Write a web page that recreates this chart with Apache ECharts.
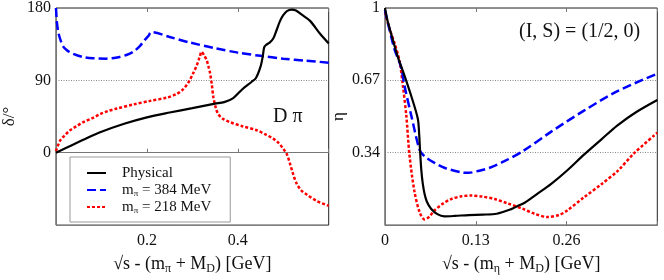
<!DOCTYPE html>
<html>
<head>
<meta charset="utf-8">
<script src="https://cdn.jsdelivr.net/npm/echarts@6/dist/echarts.min.js"></script>
<style>html,body{margin:0;padding:0;background:#fff}#c{width:664px;height:280px}</style>
</head>
<body>
<div id="c"></div>
<script>
// ---- Left panel: phase shift delta (deg) vs sqrt(s) - (m_pi + M_D) [GeV]
const physX = [0,0.03,0.06,0.1,0.15,0.2,0.25,0.3,0.35,0.37,0.39,0.41,0.43,0.44,0.45,0.455,0.458,0.462,0.47,0.478,0.485,0.493,0.5,0.508,0.518,0.528,0.54,0.559,0.581,0.6];
const physDelta = [0,8,16,26,36,44,50,55.5,61,63,68,79,88,93,107,120,131,134,137,142,152,164,171,176,178,177,172,164,148,136];
const m384X = [0,0.002,0.005,0.01,0.016,0.025,0.038,0.06,0.082,0.11,0.134,0.155,0.17,0.185,0.195,0.203,0.21,0.25,0.295,0.35,0.4,0.45,0.5,0.55,0.6];
const m384Delta = [180,162,150,140,132,127,123,119,117.5,117,118.5,121.5,125.5,133,140,145,150,144,137,130,124.5,120.5,117,114.5,112];
const m218X = [0,0.009,0.02,0.031,0.045,0.06,0.08,0.097,0.115,0.134,0.17,0.207,0.244,0.265,0.28,0.292,0.302,0.31,0.316,0.3205,0.326,0.3315,0.336,0.339,0.343,0.346,0.351,0.357,0.368,0.383,0.41,0.4416,0.46,0.478,0.49,0.5,0.508,0.515,0.522,0.53,0.54,0.5516,0.5736,0.6];
const m218Delta = [2,15,22,28,33,38,43,48,52,55,60,64.5,68.5,73,79,88,99,109,119,125.5,121,115,106,99,84,70,57,48,42,38,33,28,23,17.5,12,5,-2,-14,-27,-39,-47,-52,-60,-66];

// ---- Right panel: inelasticity eta vs sqrt(s) - (m_eta + M_D) [GeV]
const physEtaX = [0,0.003,0.009,0.018,0.028,0.0376,0.047,0.049,0.05,0.052,0.054,0.0567,0.06,0.066,0.075,0.085,0.1,0.12,0.14,0.16,0.18,0.19,0.2,0.22,0.2376,0.26,0.285,0.31,0.333,0.36,0.39];
const physEta = [1.0,0.95,0.88,0.78,0.69,0.598,0.494,0.42,0.36,0.26,0.2,0.15,0.115,0.083,0.058,0.048,0.05,0.054,0.056,0.06,0.08,0.095,0.11,0.155,0.195,0.255,0.33,0.4,0.464,0.525,0.58];
const m384EtaX = [0,0.005,0.0138,0.023,0.028,0.0376,0.0495,0.0567,0.071,0.085,0.109,0.12,0.133,0.15,0.171,0.197,0.2376,0.285,0.333,0.39];
const m384Eta = [0.99,0.92,0.81,0.73,0.643,0.509,0.352,0.322,0.292,0.27,0.249,0.247,0.255,0.27,0.3,0.345,0.434,0.531,0.62,0.70];
const m218EtaX = [0,0.007,0.0138,0.021,0.0257,0.0305,0.035,0.042,0.0495,0.0567,0.063,0.071,0.082,0.0948,0.11,0.1233,0.14,0.157,0.175,0.197,0.214,0.233,0.25,0.261,0.285,0.31,0.333,0.357,0.39];
const m218Eta = [0.98,0.9,0.838,0.755,0.643,0.509,0.33,0.165,0.068,0.034,0.045,0.075,0.104,0.127,0.14,0.143,0.138,0.127,0.108,0.083,0.06,0.045,0.055,0.075,0.135,0.195,0.255,0.337,0.43];

// ---- Tick labels
const leftXTicks = [0.2, 0.4];
const leftYTicks = [0, 90, 180];
const rightXTicks = [0, 0.13, 0.26];
const rightYTicks = [0.34, 0.67, 1];

const FONT = "'Liberation Serif','DejaVu Serif',serif";
const zip = (xs, ys) => xs.map((x, i) => [x, ys[i]]);
const has = (arr, v) => arr.some(t => Math.abs(t - v) < 1e-6);

const chart = echarts.init(document.getElementById('c'), null, {renderer: 'canvas'});

const subRich = {
  sub: {fontSize: 12, fontFamily: FONT, color: '#111', verticalAlign: 'bottom', lineHeight: 21}
};
const legendRich = {
  sub: {fontSize: 9, fontFamily: FONT, color: '#111', verticalAlign: 'bottom', lineHeight: 16}
};

const labelStyle = {fontSize: 16, fontFamily: FONT, color: '#111'};
const frameLine = {show: true, lineStyle: {color: '#777', width: 1}};
const tickStyle = {show: true, inside: true, length: 4, lineStyle: {color: '#777', width: 1}};
const gridLine = {show: true, lineStyle: {type: [1, 1.5], color: '#888', width: 1}};

const NAMES = ['Physical', 'm384', 'm218'];
const styles = {
  Physical: {color: '#000', width: 2.2, type: 'solid'},
  m384: {color: '#0000ff', width: 2.5, type: [9, 4]},
  m218: {color: '#ff0000', width: 2.5, type: [3, 2]}
};
function line(name, data, idx) {
  return {
    name, type: 'line', data, xAxisIndex: idx, yAxisIndex: idx,
    showSymbol: false, symbol: 'none', smooth: 0.3,
    lineStyle: styles[name], itemStyle: {color: styles[name].color},
    animation: false, z: name === 'Physical' ? 3 : 2
  };
}

const option = {
  backgroundColor: '#fff',
  animation: false,
  grid: [
    {left: 56, top: 7, width: 272.7, height: 221.3, show: true, borderColor: '#222', borderWidth: 1, containLabel: false},
    {left: 385, top: 7, width: 272.3, height: 221.3, show: true, borderColor: '#222', borderWidth: 1, containLabel: false}
  ],
  legend: {
    data: NAMES,
    orient: 'vertical',
    left: 70, top: 157,
    padding: [8, 19, 7, 16],
    itemGap: 1,
    itemWidth: 19, itemHeight: 14,
    borderColor: '#999', borderWidth: 1, backgroundColor: '#fff',
    itemStyle: {color: 'rgba(0,0,0,0)', borderWidth: 0, opacity: 0},
    textStyle: {fontSize: 15, fontFamily: FONT, color: '#111', lineHeight: 16, padding: [0, 0, 0, 11], rich: legendRich},
    formatter: n => n === 'Physical' ? 'Physical' : (n === 'm384' ? 'm{sub|π} = 384 MeV' : 'm{sub|π} = 218 MeV')
  },
  xAxis: [
    {
      gridIndex: 0, type: 'value', min: 0, max: 0.6, interval: 0.2,
      axisLine: frameLine, axisTick: tickStyle, splitLine: {show: false},
      axisLabel: Object.assign({margin: 8, formatter: v => has(leftXTicks, v) ? v.toFixed(1) : ''}, labelStyle),
      name: '√s - (m{sub|π} + M{sub|D}) [GeV]', nameLocation: 'middle', nameGap: 28,
      nameTextStyle: {fontSize: 18, fontFamily: FONT, color: '#111', lineHeight: 21, rich: subRich}
    },
    {
      gridIndex: 1, type: 'value', min: 0, max: 0.39, interval: 0.13,
      axisLine: frameLine, axisTick: tickStyle, splitLine: {show: false},
      axisLabel: Object.assign({margin: 8, formatter: v => has(rightXTicks, v) ? (v === 0 ? '0' : v.toFixed(2)) : ''}, labelStyle),
      name: '√s - (m{sub|η} + M{sub|D}) [GeV]', nameLocation: 'middle', nameGap: 28,
      nameTextStyle: {fontSize: 18, fontFamily: FONT, color: '#111', lineHeight: 21, rich: subRich}
    },
    {
      gridIndex: 0, type: 'value', position: 'top', min: 0, max: 0.6, interval: 0.2,
      axisLine: {show: false}, axisTick: tickStyle, axisLabel: {show: false}, splitLine: {show: false}
    },
    {
      gridIndex: 1, type: 'value', position: 'top', min: 0, max: 0.39, interval: 0.13,
      axisLine: {show: false}, axisTick: tickStyle, axisLabel: {show: false}, splitLine: {show: false}
    }
  ],
  yAxis: [
    {
      gridIndex: 0, type: 'value', min: -90, max: 180, interval: 90,
      axisLine: frameLine, axisTick: {show: false}, splitLine: gridLine,
      axisLabel: Object.assign({margin: 5, formatter: v => has(leftYTicks, v) ? String(v) : ''}, labelStyle),
      name: 'δ/°', nameLocation: 'middle', nameGap: 38,
      nameTextStyle: {fontSize: 17, fontFamily: FONT, color: '#111'}
    },
    {
      gridIndex: 1, type: 'value', min: 0.008, max: 1,
      axisLine: frameLine, axisTick: {show: false, customValues: rightYTicks}, splitLine: gridLine,
      axisLabel: Object.assign({margin: 5, customValues: rightYTicks, formatter: v => v === 1 ? '1' : v.toFixed(2)}, labelStyle),
      name: 'η', nameLocation: 'middle', nameGap: 38,
      nameTextStyle: {fontSize: 17, fontFamily: FONT, color: '#111'}
    }
  ],
  graphic: [
    {type: 'text', left: 273, top: 107, style: {text: 'D π', fontSize: 20, fontFamily: FONT, fill: '#111'}},
    {type: 'text', left: 519, top: 22, style: {text: '(I, S) = (1/2, 0)', fontSize: 20, fontFamily: FONT, fill: '#111'}}
  ],
  series: [
    line('m218', zip(m218X, m218Delta), 0),
    line('m384', zip(m384X, m384Delta), 0),
    line('Physical', zip(physX, physDelta), 0),
    line('m218', zip(m218EtaX, m218Eta), 1),
    line('m384', zip(m384EtaX, m384Eta), 1),
    line('Physical', zip(physEtaX, physEta), 1)
  ]
};
chart.setOption(option);
</script>
</body>
</html>
